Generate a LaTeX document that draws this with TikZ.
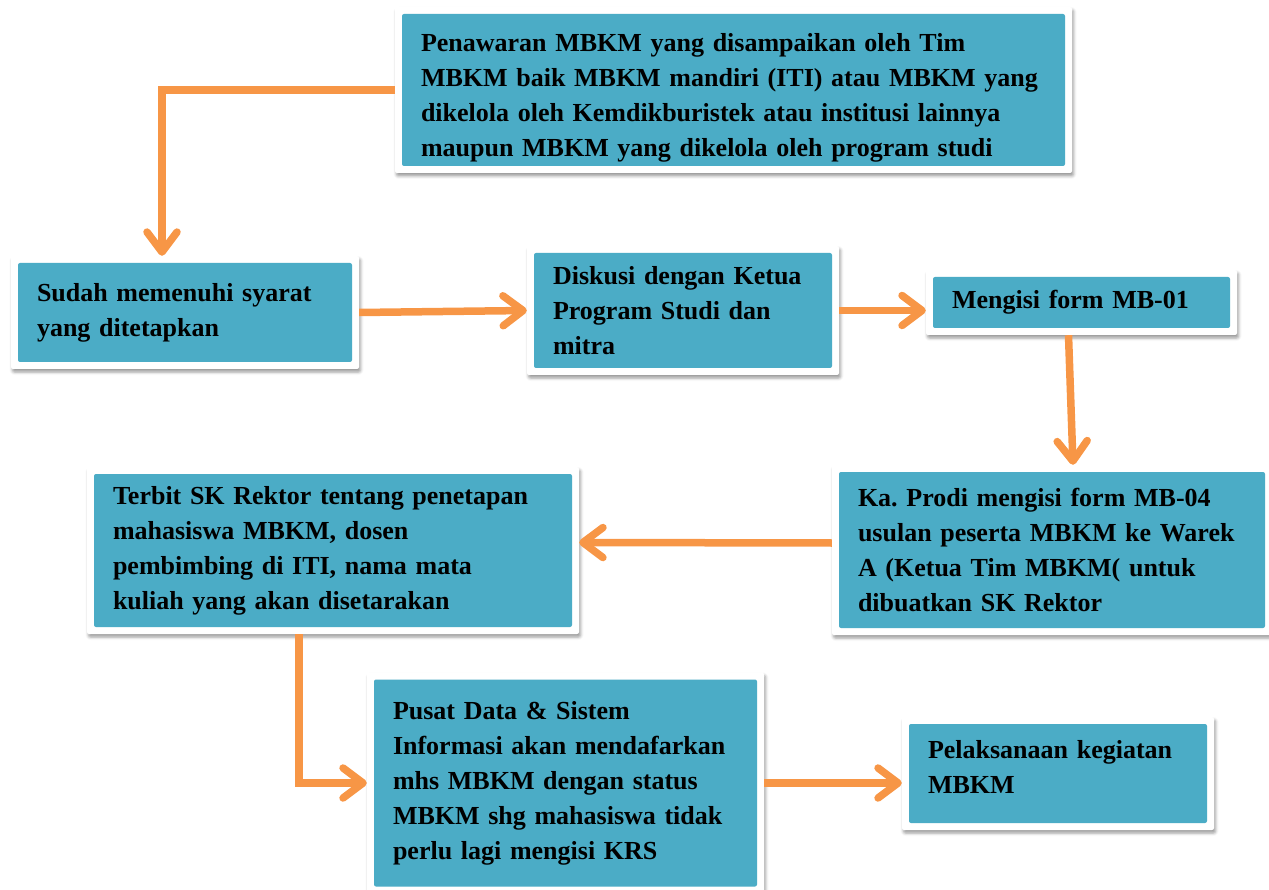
\documentclass[tikz,border=0pt]{standalone}
\usepackage{fontspec}
\setmainfont{Liberation Serif}
\usepackage{xcolor}
\usetikzlibrary{arrows.meta, shadows.blur}
\definecolor{boxteal}{HTML}{4BACC6}
\definecolor{floworange}{HTML}{F79646}
\tikzstyle{flow} = [line width=7.5pt, draw=floworange, -{Straight Barb[length=20pt,width=30pt,round]}]
\frenchspacing

\begin{document}
\begin{tikzpicture}[
    x=1pt, y=-1pt,
    stage/.style 2 args={fill=white, rounded corners=2pt,
      minimum width=#1pt, minimum height=#2pt, text width=#1pt-52pt,
      inner xsep=26pt, inner ysep=2pt, align=left,
      font=\fontsize{26}{35}\selectfont\bfseries,
      blur shadow={shadow xshift=1.5pt, shadow yshift=-3pt,
        shadow blur radius=3pt, shadow opacity=40},
      path picture={\fill[boxteal]
        ([shift={(7pt,-7pt)}]path picture bounding box.north west) rectangle
        ([shift={(-7pt,7pt)}]path picture bounding box.south east);}},
  ]
  \useasboundingbox (0,0) rectangle (1269,890);

  \node[stage={677}{166}] (offer) at (733.5,90)
    {\mbox{}\\[-2pt]
     Penawaran MBKM yang disampaikan oleh Tim\\
     MBKM baik MBKM mandiri (ITI) atau MBKM yang\\
     dikelola oleh Kemdikburistek atau institusi lainnya\\
     maupun MBKM yang dikelola oleh program studi};
  \node[stage={348}{113}] (meet) at (185,312.5)
    {Sudah memenuhi syarat\\yang ditetapkan};
  \node[stage={312}{129}] (discuss) at (683,310.5)
    {Diskusi dengan Ketua\\Program Studi dan\\mitra};
  \node[stage={311}{65}] (formA) at (1081.5,302.5)
    {Mengisi form MB-01};
  \node[stage={440}{170}] (propose) at (1052,550)
    {Ka. Prodi mengisi form MB-04\\usulan peserta MBKM ke Warek\\
     A (Ketua Tim MBKM( untuk\\dibuatkan SK Rektor};
  \node[stage={492}{167}] (decree) at (333,550.5)
    {Terbit SK Rektor tentang penetapan\\mahasiswa MBKM, dosen\\
     pembimbing di ITI, nama mata\\kuliah yang akan disetarakan};
  \node[stage={397}{221}] (register) at (565.5,783)
    {Pusat Data \& Sistem\\Informasi akan mendafarkan\\mhs MBKM dengan status\\
     MBKM shg mahasiswa tidak\\perlu lagi mengisi KRS};
  \node[stage={312}{113}] (execute) at (1058,773.5)
    {Pelaksanaan kegiatan\\MBKM\\[-22pt]\mbox{}};

  \draw[flow] (offer.west) -| ([xshift=-23pt]meet.north);
  \draw[flow] (meet.east) -- (discuss.west);
  \draw[flow] (discuss.east) -- (discuss.east -| formA.west);
  \draw[flow] ([xshift=-13pt]formA.south) -- ([xshift=21pt]propose.north);
  \draw[flow] ([yshift=7pt]propose.west) -- ([yshift=8pt]decree.east);
  \draw[flow] ([xshift=-34pt]decree.south) |- (register.west);
  \draw[flow] (register.east) -- (register.east -| execute.west);
\end{tikzpicture}
\end{document}
